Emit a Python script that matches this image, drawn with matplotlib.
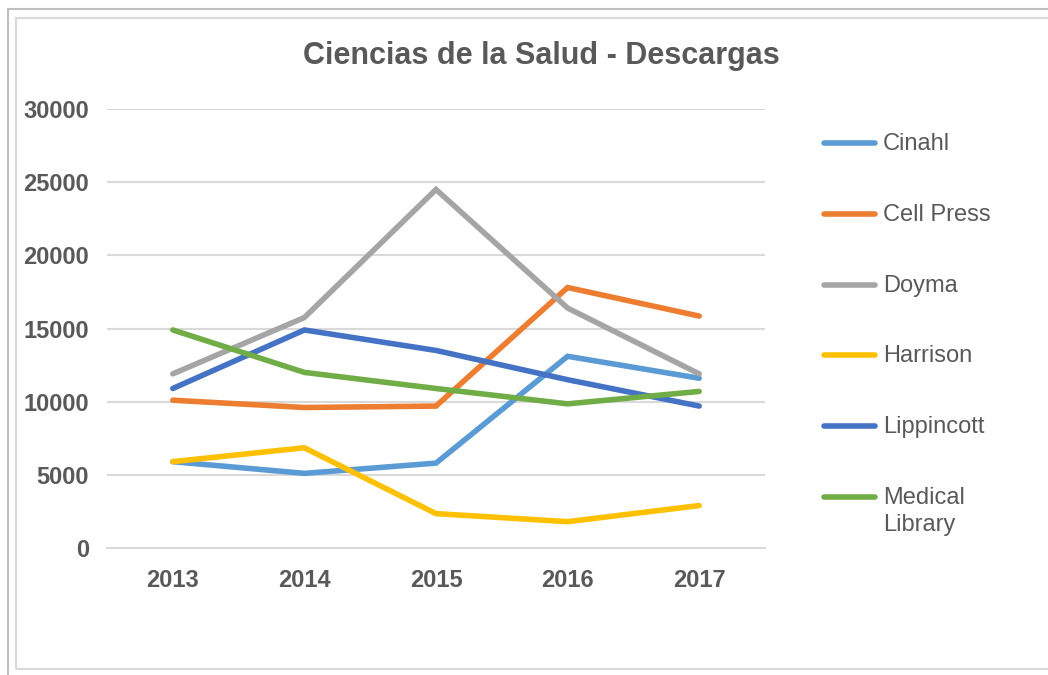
import matplotlib.pyplot as plt
from matplotlib.lines import Line2D
from matplotlib.patches import Rectangle

plt.rcParams['font.family'] = ['Liberation Sans', 'DejaVu Sans']

years = ['2013', '2014', '2015', '2016', '2017']
cinahl = [5900, 5100, 5800, 13100, 11600]
cell_press = [10100, 9600, 9700, 17800, 15850]
doyma = [11900, 15750, 24500, 16400, 11900]
harrison = [5900, 6850, 2350, 1800, 2900]
lippincott = [10900, 14900, 13500, 11500, 9700]
medical_library = [14900, 12000, 10900, 9850, 10700]

names = ['Cinahl', 'Cell Press', 'Doyma', 'Harrison', 'Lippincott', 'Medical\nLibrary']
series = [cinahl, cell_press, doyma, harrison, lippincott, medical_library]
colors = ['#5B9BD5', '#ED7D31', '#A5A5A5', '#FFC000', '#4472C4', '#70AD47']

txt = '#595959'
grid = '#D9D9D9'

fig = plt.figure(figsize=(10.48, 6.75), dpi=100)
ax = fig.add_axes([107/1048, 1 - 548/675, (765 - 107)/1048, (548 - 109)/675])

x = list(range(len(years)))
for vals, c in zip(series, colors):
    ax.plot(x, vals, color=c, lw=4, solid_capstyle='round', solid_joinstyle='miter', zorder=3)

ax.set_xlim(-0.5, len(years) - 0.5)
ax.set_ylim(0, 30000)
ax.set_yticks(range(0, 30001, 5000))
ax.set_xticks(x)
ax.set_xticklabels(years)
ax.yaxis.grid(True, color=grid, lw=1.5)
ax.set_axisbelow(True)
for s in ['top', 'right', 'left']:
    ax.spines[s].set_visible(False)
ax.spines['bottom'].set_color(grid)
ax.spines['bottom'].set_linewidth(1.5)
ax.tick_params(length=0, colors=txt, labelsize=17)
ax.tick_params(axis='y', pad=13)
ax.tick_params(axis='x', pad=15)
for lab in ax.get_xticklabels() + ax.get_yticklabels():
    lab.set_fontweight('bold')

fig.text(541/1048, 1 - 56/675, 'Ciencias de la Salud - Descargas', ha='center', va='center',
         fontsize=22, fontweight='bold', color=txt)

# legend (drawn by hand so the two-line entry keeps its line on the first row)
leg_y = [143, 214, 285, 355, 426, 497]
for name, c, yy in zip(names, colors, leg_y):
    fy = 1 - yy/675
    fig.add_artist(Line2D([824/1048, 875/1048], [fy, fy], color=c, lw=4,
                          solid_capstyle='round', transform=fig.transFigure))
    fig.text(883/1048, fy + 10/675, name, ha='left', va='top', fontsize=17,
             color=txt, linespacing=1.3)

# chart frame
fig.add_artist(Rectangle((8/1048, -0.05), 1.1, 1 - 9/675 + 0.05, transform=fig.transFigure,
                         fill=False, edgecolor='#BFBFBF', lw=1.5))
fig.add_artist(Rectangle((16/1048, 1 - 669/675), 1.1, (669 - 18)/675, transform=fig.transFigure,
                         fill=False, edgecolor=grid, lw=1.5))

fig.savefig('out.png', dpi=100)
